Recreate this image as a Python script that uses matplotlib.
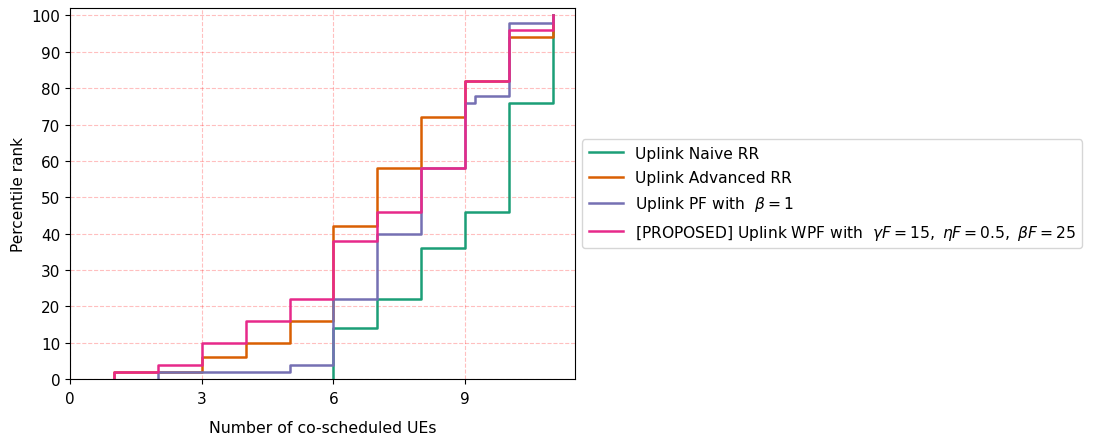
import numpy as np
import matplotlib
matplotlib.use("Agg")
import matplotlib.pyplot as plt

# ECDF step values (percentile rank at each jump)
naive_x = [6, 7, 8, 9, 10, 11]
naive_y = [14, 22, 36, 46, 76, 100]

adv_x = [1, 3, 4, 5, 6, 7, 8, 9, 10, 11]
adv_y = [2, 6, 10, 16, 42, 58, 72, 82, 94, 100]

pf_x = [2, 5, 6, 7, 8, 9, 9.22, 10, 11]
pf_y = [2, 4, 22, 40, 58, 76, 78, 98, 100]

wpf_x = [1, 2, 3, 4, 5, 6, 7, 8, 9, 10, 11]
wpf_y = [2, 4, 10, 16, 22, 38, 46, 58, 82, 96, 100]

labels = [
    "Uplink Naive RR",
    "Uplink Advanced RR",
    r"Uplink PF with  $\beta = 1$",
    r"[PROPOSED] Uplink WPF with  $\gamma F = 15,\ \eta F = 0.5,\ \beta F = 25$",
]
colors = ["#1b9e77", "#d95f02", "#7570b3", "#e7298a"]

fig = plt.figure(figsize=(10.93, 4.39), dpi=100)
ax = fig.add_axes([0.064, 0.134, 0.462, 0.845])

series = [(naive_x, naive_y), (adv_x, adv_y), (pf_x, pf_y), (wpf_x, wpf_y)]
for (xs, ys), lab, c in zip(series, labels, colors):
    x = [xs[0]] + list(xs)
    y = [0] + list(ys)
    ax.step(x, y, where="post", color=c, lw=1.8, label=lab)

ax.set_xlim(0, 11.5)
ax.set_ylim(0, 102)
ax.set_xticks([0, 3, 6, 9])
ax.set_yticks(np.arange(0, 101, 10))
ax.tick_params(labelsize=11)
ax.tick_params(axis="x", pad=5)
ax.grid(True, color="red", linestyle="--", alpha=0.25)
ax.set_xlabel("Number of co-scheduled UEs", fontsize=11.3, labelpad=10)
ax.set_ylabel("Percentile rank", fontsize=11)

ax.legend(loc="center left", bbox_to_anchor=(1.01, 0.5), fontsize=11.2,
          handlelength=2.2, borderaxespad=0.15, labelspacing=0.6)

fig.savefig("out.png", dpi=100)
